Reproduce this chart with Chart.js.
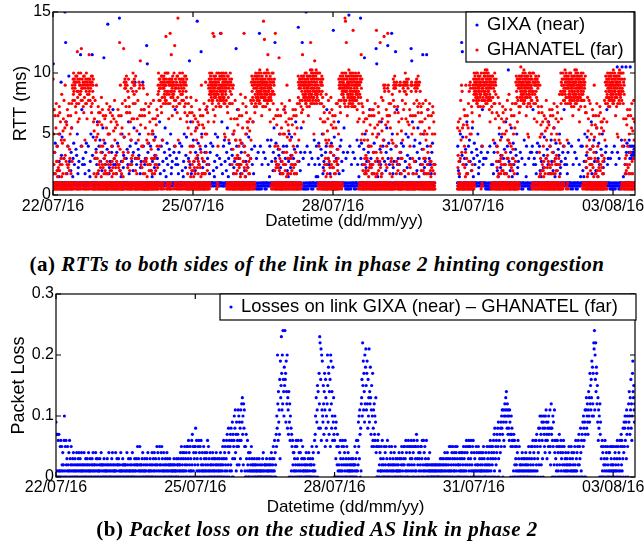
<!DOCTYPE html>
<html>
<head>
<meta charset="utf-8">
<script src="https://cdn.jsdelivr.net/npm/chart.js@4.4.1/dist/chart.umd.min.js"></script>
<style>
  html, body { margin: 0; padding: 0; background: #fff; }
  #page { position: relative; width: 644px; height: 560px; overflow: hidden; }
  canvas { position: absolute; left: 0; }
  #rtt { top: 0; }
  #loss { top: 280px; }
  .cap { position: absolute; left: 0; width: 634px; text-align: center; white-space: nowrap;
         font-family: "Liberation Serif", serif; font-weight: bold; font-size: 21px; line-height: 21px;
         letter-spacing: 0.5px; color: #000; }
  .cap i { font-style: italic; }
</style>
</head>
<body>
<div id="page">
  <canvas id="rtt" width="644" height="232"></canvas>
  <div class="cap" style="top:254px">(a) <i>RTTs to both sides of the link in phase 2 hinting congestion</i></div>
  <canvas id="loss" width="644" height="238"></canvas>
  <div class="cap" style="top:519px">(b) <i>Packet loss on the studied AS link in phase 2</i></div>
</div>
<script>
// x axis is hours since 22/07/16 00:00
const xTicks = [0, 72, 144, 216, 288];
const xLabels = ['22/07/16', '25/07/16', '28/07/16', '31/07/16', '03/08/16'];
const xEnd = 299.3;

const rttTicks = [0, 5, 10, 15];
const lossTicks = [0, 0.1, 0.2, 0.3];
const lossTickLabels = ['0', '0.1', '0.2', '0.3'];

// one string per day, '.' = no measurement; char = index in CODES
// GHANATEL: one char per 5 min, GIXA and losses: one char per 10 min
// RTT unit 0.25 ms, loss unit 0.01
const CODES = '0123456789abcdefghijklmnopqrstuvwxyzABCDEFGHIJKLMNOPQRSTUVWXYZ';

const ghanatel = [
  '2C37k4a2s3e4 3q2742m3u4b2 38g26b3q4924 4k3t28r2a3o4 4c2i36x2a3h2 27l4p3c2v4i3 2m3Ad2o47b32 3n2a4s3g29q4 3a4u28f3c2k4 3q2742m3u4b2 Az3vC2xE4yB3 Cv3Az2Bt4Dr3 3BuD2yL4wCo2 2yEu3Bp4AxC2 xA2Ey3vM4zg3 Cv3Az2Bt4Dr3 2DwB3iAz4uC2 2yEu3Bp4AxC2 Az3vC2xK4yB3 Cv3Az2Bt4Dr3 3BuD2yA4wCo2 27l4p3c2v4i3 26e3A4j27c3n 4k3t28r2a3o4',
  '4b2r39g2e36w 3n2a4s3g29q4 2i47c3a2p48d 3q2742m3u4b2 2737k4a2s3e4 4k3t28r2a3o4 38g26b3q4924 27l4p3c2v4i3 2m39d2o47b32 3n2a4s3g29q4 3a4O28f3A2k4 3q2742m3u4b2 26e3M4j2Bc3z Cv3Az2Bt4Dr3 4A2r39y2e3Cw 4k3t28r2a3o4 2i4zc3a2p4Bd 2yEu3Bp4AxC2 3A4u28D3c2y4 27l4p3c2v4i3 2c3B4z2q3A4I 3n2a4s3g29q4 4g2A37z2b3s2 3q2742m3u4b2',
  '4c2i36x2a3h2 4k3t28r2a3o4 3a4u28f3c2k4 27l4p3c2v4i3 2i47c3a2p48d 3n2a4s3g29q4 xA2Ey3vC4zg3 Cv3Az2Bt4Dr3 2DwB3iAz4uC2 DzAxBwCyEvAu AQ3vC2xE4yB3 2yEu3Bp4AxC2 3BuR2yA4wCK2 AyCzqBxDwAtB xA2Ey3vN4zg3 Cv3Az2Bt4Dr3 2DwW3iAz4uC2 2yEu3Bp4AxC2 Az3vC2xE4yB3 Cv3Az2Bt4Dr3 3BuD2yA4wCo2 3q2742m3u4b2 4b2r39g2e36w 4k3t28r2a3o4',
  '38g26b3q4924 27l4p3c2v4i3 2m39d2o47b32 3n2a4s3g29q4 26e3A4j27c3n 3q2742m3u4b2 2737k4B2s3e4 4k3t28r2a3o4 Az3vC2xE4yB3 DzAxBwCyEvAu yAvRzsBxDoQw AyCzqBxDwAtB xA2Ey3vC4zg3 xBuEzwCAtDyv zCwAtRyEvDxA DzAxBwCyEvAu wDkzBuCjAyxE Cv3Az2Bt4Dr3 2DwB3iAz4uC2 2yEu3Bp4AxC2 3a4u2zf3A2k4 27l4p3c2v4i3 2i47c3a2p48d 3n2a4s3g29q4',
  '4c2i36x2a3h2 3q2742m3u4b2 4b2R39g2e36w 4k3t28r2a3o4 2m39d2o47b32 27l4p3c2v4i3 3BuD2yA4wCo2 Cv3Az2Bt4Dr3 xBuEzwCAtDyv DzAxBwCyEvAu AvDyFxBuzCwE AyCzqBxDwAtB zCwVtByEvPxA zCwAtByEvDxA BxFuAzKvCyEw yAvCzsBxDoAw Az3vC2xE4yB3 2yEu3Bp4AxC2 38g2Rb3q4924 3n2a4s3g29q4 3a4J28f3c2k4 3q2742m3u4b2 2737k4a2s3e4 4k3t28r2a3o4',
  '26e3A4j27c3n 27l4p3c2v4i3 2i47c3a2p48d 3n2a4s3g29q4 2737k4a2s3e4 3q2742m3u4b2 2DwB3iAz4uC2 Cv3Az2Bt4Dr3 yAvCKsBxDoAw DzAxBwCyEvAu xBuEzwCAtDyv AyCzqBxDwAtB AvDyFxOuzCwE BxFuAzDvCyEw wDkzBuCIAyxE AvDyFxBuzCwE xA2Ey3vC4zg3 2yEu3Bp4AxC2 3BuD2yA4wCo2 4k3t28r2a3o4 4c2i36x2a3h2 27l4p3c2v4i3 4b2r39g2e36w 3n2a4s3g29q4',
  '2m39d2o47b32 3q2742m3u4b2 3a4u28f3c2k4 Cv3Az2Bt4Dr3 Az3vC2xE4yB3 DzAxBwCyEvAu zCWAtVyEvDOA AyCzqBxDwAtB BxFuAzDvCyEw xBuEzwCAtDyv xBuESwCAtDyv zCwAtByEvDxA yAvCzsBxDoAw 2yEu3Bp4AxC2 2DwB3iKz4uC2 4k3t28r2a3o4 2i47c3a2p48d 27l4p3c2v4i3 38g26b3q4924 3n2a4s3g29q4 2737k4a2s3e4 3q2742m3u4b2 26e3S4j27c3n 4k3t28r2a3o4',
  '4b2O39g2e36w 27l4p3c2v4i3 3A2Q4z3y2A43 3n2a4s3g29q4 2zRo3Aq2y4u3 3q2742m3u4b2 4c2i36x2a3h2 Cv3Az2Bt4Dr3 A3z2g4A7bB43 4k3t28r2a3o4 2A4y3e2B3Ac2 27l4p3c2v4i3 3zA2s4B3yA83 2yEu3Bp4AxC2 2B4A3o2z4C72 3n2a4s3g29q4 4A2y3B4k2A3c 3q2742m3u4b2 2zA3q2B4y3A7 Cv3Az2Bt4Dr3 3A24u3B2o4y3 4k3t28r2a3o4 3a4u28f3c2k4 27l4p3c2v4i3',
  '2737k4a2s3e4 3q2742m3u4b2 38g26b3q4924 4k3t28r2a3o4 2437k2a..... ............ ............ ............ ............ ............ ............ ............ ............ ............ ............ ............ 2m39d2o47b32 27l4p3c2v4i3 3A2e4y3m2a32 3n2a4s3g29q4 26e3A4j27c3n 3q2742m3u4b2 3y2A4k3B2z43 4k3t28r2a3o4',
  'Az3vC2xE4yB3 DzAxBwCyEvAu xBuEzwCAtDyv AyCzqBxDwAtB xA2Ey3vC4zg3 zCwAtByEvDxA AvDyFxBuzCwE BxFuAzDvCyEw yAvCzsBxDoAw Cv3Az2Bt4Dr3 2DwB3iAz4uC2 2yEu3Bp4AxC2 4b2r39g2e36w 3q2742m3u4b2 2i47c3a2p48d 4k3t28r2a3o4 2737k4a2s3e4 27l4p3c2v4i3 4c2i36x2a3h2 3n2a4s3g29q4 3a4u28f3c2k4 3q2742m3u4b2 3BuD2yA4wCo2 Cv3Az2Bt4Dr3',
  'zCwAtByGvDxA DzAxBwCyEvAu BxFuAzDvCyEw AyCzqBxDwAtB wDkzBuCjAyxE xBuEzwCAtDyv Az3vC2xE4yB3 2yEu3Bp4AxC2 3BuD2yA4wCo2 Cv3Az2Bt4Dr3 26e3A4j27c3n 4k3t28r2a3o4 38g26b3q4924 27l4p3c2v4i3 2m39d2o47b32 3n2a4s3g29q4 2737k4a2s3e4 3q2742m3u4b2 2i47c3a2p48d 4k3t28r2a3o4 4c2i36x2a3h2 2yEu3Bp4AxC2 xA2Ey3vC4zg3 AvDyFxBuzCwE',
  '2DwB3iAz4uC2 DzAxBwCyEvAu xBuEzwCAtDyv AyCzqBxDwAtB AvDyFxBuzCwE BxFuAzDvCyEw yAvCzsBxDoAw zCwAtByEvDxA Az3vC2xE4yB3 Cv3Az2Bt4Dr3 4b2r39g2e36w 27l4p3c2v4i3 3a4u28f3c2k4 3n2a4s3g29q4 26e3A4j27c3n 3q2742m3u4b2 38g26b3q4924 4k3t28r2a3o4 2m39d2o47b32 27l4p3c2v4i3 3BuD2yA4wCo2 xBuEzwCAtDyv zCwAtByEvDxA DzAxBwCyEvAu',
  'BxFuAzDvCyEw AyCzqBxDwAtB wDkzBuCjAyxE AvDyFxBuzCwE xA2Ey3vC4zg3 2yEu3Bp4AxC2 2i47c3a2p48d 3n2a4s3g29q4 2737k4a2s3e4 3q2742m3u4b2 27l4p3c2v4i3 3o24'
];

const gixa = [
  '3H473e4h3434 4g38436b4k34 3Bd4j34343c4 4Y3O4o3743g3 3D4b3438e4m3 46c3h4a3434f 3d4k3794b343 4K3g4s3a4c34 3a473e4h3434 4g38436b4k34 3Kd4j34343c4 4f3a4o3743g3',
  '3i4b3438e4m3 4Jc3h4a3434f 3U4k3794b343 4e3g4s3a4c34 3a473e4h3434 4W38436b4k34 39d4j34343c4 4f3a4o3743g3 3i4b3438e4m3 4Bc3h4a3434f 3d4k3794b343 4B3g4s3a4c34',
  '3N4H3e4h3434 4g38436b4k34 39d4j34343c4 4f3a4o3743g3 3i4b3438e4m3 46c3h4a3434f 3d4k3794b343 4e3g4s3a4c34 3a473e4h3434 4g38436b4k34 39d4j34343c4 4I3a4o3743g3',
  '3i4b3438e4m3 4Vc3h4a3434f 3L4k3794b343 4e3g4s3a4c34 3a473e4h3434 4g38436b4k34 39d4j34343c4 4R3a4o3743g3 3i4b3438e4m3 46c3h4a3434f 3d4k3794b343 4M3g4s3a4c34',
  '3a473e4h3434 4g38436b4k34 39d4j34343c4 4f3a4o3743g3 3432c3423e32 4R23g4323a43 34e3432c3424 43i3a3436g34 3i4b3438e4m3 4Oc3h4a3434f 3d4k3794b343 4e3g4s3a4c34',
  '4g38436b4k34 39d4j34343c4 4f3a4o3743g3 3T4b3438e4m3 3O32c3423e32 4Y23g4323a43 34e3432c3424 43i3a3436g34 46c3h4a3434f 3d4k3794b343 4e3g4s3a4c34 3a473e4h3434',
  '3Sd4j34343c4 4f3a4o3743g3 3i4b3438e4m3 3432c3423e32 4X23g4323a43 34e3432c3424 43i3a3436g34 4Wc3h4a3434f 3J4k3794b343 4e3g4s3a4c34 3a473e4h3434 4M3H436b4k34',
  '4f3a4o3743g3 3i4b3438e4m3 4Nc3h4a3434f 3R4k3794b343 4L3g4s3a4c34 3a473e4h3434 4g38436b4k34 39d4j34343c4 4M3I4o3743g3 3i4b3438e4m3 46c3h4a3434f 3K4k3794b343',
  '4K3g4s3a4c34 3a473e4h3434 3a4......... ............ ............ ............ ............ ............ 4g38436b4k34 3OdLj34343c4 4f3a4o3743g3 3i4b3438e4m3',
  '46c3h4a3434f 3d4k3794b343 4e3g4s3a4c34 3432c3423e32 4323g4323a43 3a473e4h3434 4g38436b4k34 39d4j34343c4 4f3a4o3743g3 3F4b3438e4m3 46c3h4a3434f 3d4k3794b343',
  '34e3432c3424 43i3a3436g34 3432c3423e32 4e3g4s3a4c34 3a473e4h3434 4g38436b4k34 39d4j34343c4 4f3a4o3743g3 3i4b3438e4m3 46c3h4a3434f 3d4k3794b343 4e3g4s3a4c34',
  '3a473e4h3434 4323g4323a43 34e3432c3424 43i3a3436g34 4g38436b4k34 39d4j34343c4 4f3a4o3743g3 3i4b3438e4m3 46c3h4a3434f 3d4k3794b343 4e3g4s3a4c34 3432c3423e32',
  '4323g4323a43 3Ge3432c3424 43i3G3436g34 3a47Ge4h3434 4eigcGe4gdc3 egcdef4g'
];

const losses = [
  '907017060710 150601520412 06a015062031 502140613025 102031402103 012041020314 201302140120 120401203102 031204102130 102031240102 210403120301 012130204120',
  '201023010210 102310204102 010203140201 210104201302 023010210401 102302102012 201040120301 012301020410 102031201302 250130215012 021304102013 102010320401',
  '012031020140 203104120302 150240130521 024051302140 102301204130 210203120201 012102301210 103021203012 214035102413 041520314025 503614205130 162705140352',
  '584061302516 041503621041 205130412031 406215031042 102031402130 013204120301 201302410203 152063041520 361705284061 572816093705 6a38b4719526 7b5a29683b61',
  'c9d7a2c8b510 507301620401 304120513021 201302102013 102010301201 010203140102 201023010210 102301204103 215031604207 5a8kc6e9b7g3 jdfnhbkcogea ifogh9jeck8d',
  'b7e09c6a0817 506241403152 061503260140 204160320513 102301204102 013040210302 205130412061 7a0d59bf0e48 hcnm8gl6kbja 9fc7ehb5gd8a 6ckf9ih7ebg5 kjc8ea6i9d70',
  '6a0839052701 502140631025 160352041602 305120413021 102031201302 201520316041 6295a3b7081c dgamfjbhe9kc ilfbhjc8gadl 9ecid7bf5ah6 8b5c7a69d450 506170520413',
  '150261032051 042051306102 205130241502 130214025031 021301204130 103250412035 250316041502 061524035162 305140625013 517063250413 042515036021 604152301620',
  '201302140120 102012010201 210201020102 012031201302 103201402130 204130215031 052140350214 130524105302 201403210413 042150314025 160425036152 503614205160',
  '041302150412 205140312041 132041503120 041205132041 520631540253 064718035264 708593061748 95a8b70b96a5 cbad9eb8ca7b 8a6b9705a786 506170625031 250416031502',
  '102031402130 013204120301 205130412053 150621403516 062715304826 8a5072a96380 9a7584a6b973 6895a784b528 c7806a5902b4 603615260415 072504613052 406152031402',
  '130214052031 205140312041 052160314052 607253084160 7095a8609b70 bd8ac97bead9 hcfbgdjaicha mlobkgmeihcf 9d6b8a0c7903 506140520316 250413052014 041502315021',
  '205130412501 360521403615 072615380495 8a6093b7a508 c9ea7dbg8c6a hjedfb9c'
];

function samples(days, unit, perDay) {
  const out = [];
  days.forEach((day, d) => {
    const s = day.replace(/ /g, '');
    for (let i = 0; i < s.length; i++) {
      if (s[i] !== '.') out.push({ x: d * 24 + i * 24 / perDay, y: CODES.indexOf(s[i]) * unit });
    }
  });
  return out;
}

Chart.defaults.font.family = '"Liberation Sans", Arial, sans-serif';
Chart.defaults.color = '#000';

// box, inward ticks and the boxed legend
const frame = {
  id: 'frame',
  afterDatasetsDraw(chart, args, opts) {
    const { ctx, chartArea: a, scales: { x, y } } = chart;
    ctx.save();
    ctx.strokeStyle = '#000';
    ctx.lineWidth = 1.2;
    ctx.beginPath();
    x.ticks.forEach(t => {
      const px = x.getPixelForValue(t.value);
      ctx.moveTo(px, a.bottom); ctx.lineTo(px, a.bottom - 5);
      ctx.moveTo(px, a.top); ctx.lineTo(px, a.top + 5);
    });
    y.ticks.forEach(t => {
      const py = y.getPixelForValue(t.value);
      ctx.moveTo(a.left, py); ctx.lineTo(a.left + 5, py);
      ctx.moveTo(a.right, py); ctx.lineTo(a.right - 5, py);
    });
    ctx.stroke();
    ctx.strokeRect(a.left, a.top, a.right - a.left, a.bottom - a.top);

    const [bx, by, bw, bh] = opts.box;
    ctx.fillStyle = '#fff';
    ctx.fillRect(bx, by, bw, bh);
    ctx.strokeRect(bx, by, bw, bh);
    ctx.font = '18.4px "Liberation Sans", Arial, sans-serif';
    ctx.textBaseline = 'middle';
    opts.items.forEach(it => {
      ctx.fillStyle = it.color;
      ctx.beginPath();
      ctx.arc(opts.dotX, it.y, 1.6, 0, Math.PI * 2);
      ctx.fill();
      ctx.fillStyle = '#000';
      ctx.fillText(it.text, opts.textX, it.y);
    });
    ctx.restore();
  }
};

function xAxis(pad, h) {
  return {
    type: 'linear', min: 0, max: xEnd,
    grid: { display: false, drawTicks: false }, border: { display: false },
    afterBuildTicks: s => { s.ticks = xTicks.map(v => ({ value: v })); },
    afterFit: s => { s.height = h; s.paddingLeft = 0; s.paddingRight = 0; },
    ticks: { padding: pad, maxRotation: 0, autoSkip: false, font: { size: 16 },
             callback: v => xLabels[xTicks.indexOf(v)] },
    title: { display: true, text: 'Datetime (dd/mm/yy)', font: { size: 17 }, padding: 0 }
  };
}

function yAxis(max, ticks, labels, title, titlePad, w) {
  return {
    type: 'linear', min: 0, max: max,
    grid: { display: false, drawTicks: false }, border: { display: false },
    afterBuildTicks: s => { s.ticks = ticks.map(v => ({ value: v })); },
    afterFit: s => { s.width = w; s.paddingTop = 0; s.paddingBottom = 0; },
    ticks: { padding: 2, font: { size: 16 }, callback: v => labels[ticks.indexOf(v)] },
    title: { display: true, text: title, font: { size: 18 }, padding: { top: titlePad, bottom: 0 } }
  };
}

const common = {
  responsive: false, animation: false, events: [],
  elements: { point: { radius: 1.6, borderWidth: 0, hoverRadius: 0 } }
};

new Chart(document.getElementById('rtt'), {
  type: 'scatter',
  data: {
    datasets: [
      { label: 'GHANATEL (far)', data: samples(ghanatel, 0.25, 288), backgroundColor: '#ff0000' },
      { label: 'GIXA (near)', data: samples(gixa, 0.25, 144), backgroundColor: '#0000ff' }
    ]
  },
  options: Object.assign({}, common, {
    layout: { padding: { left: 0, right: 9, top: 12, bottom: 0 } },
    scales: {
      x: xAxis(2, 37),
      y: yAxis(15, rttTicks, rttTicks.map(String), 'RTT (ms)', 10, 53)
    },
    plugins: {
      legend: { display: false }, tooltip: { enabled: false },
      frame: { box: [466, 12, 168, 50], dotX: 477, textX: 487,
               items: [{ text: 'GIXA (near)', color: '#0000ff', y: 25 },
                       { text: 'GHANATEL (far)', color: '#ff0000', y: 50 }] }
    }
  }),
  plugins: [frame]
});

new Chart(document.getElementById('loss'), {
  type: 'scatter',
  data: {
    datasets: [
      { label: 'Losses on link GIXA (near) – GHANATEL (far)', data: samples(losses, 0.01, 144), backgroundColor: '#0000ff' }
    ]
  },
  options: Object.assign({}, common, {
    layout: { padding: { left: 0, right: 9, top: 14, bottom: 0 } },
    scales: {
      x: xAxis(1, 41),
      y: yAxis(0.3, lossTicks, lossTickLabels, 'Packet Loss', 8, 56)
    },
    plugins: {
      legend: { display: false }, tooltip: { enabled: false },
      frame: { box: [220, 14, 416, 26], dotX: 231, textX: 241,
               items: [{ text: 'Losses on link GIXA (near) – GHANATEL (far)', color: '#0000ff', y: 27 }] }
    }
  }),
  plugins: [frame]
});
</script>
</body>
</html>
